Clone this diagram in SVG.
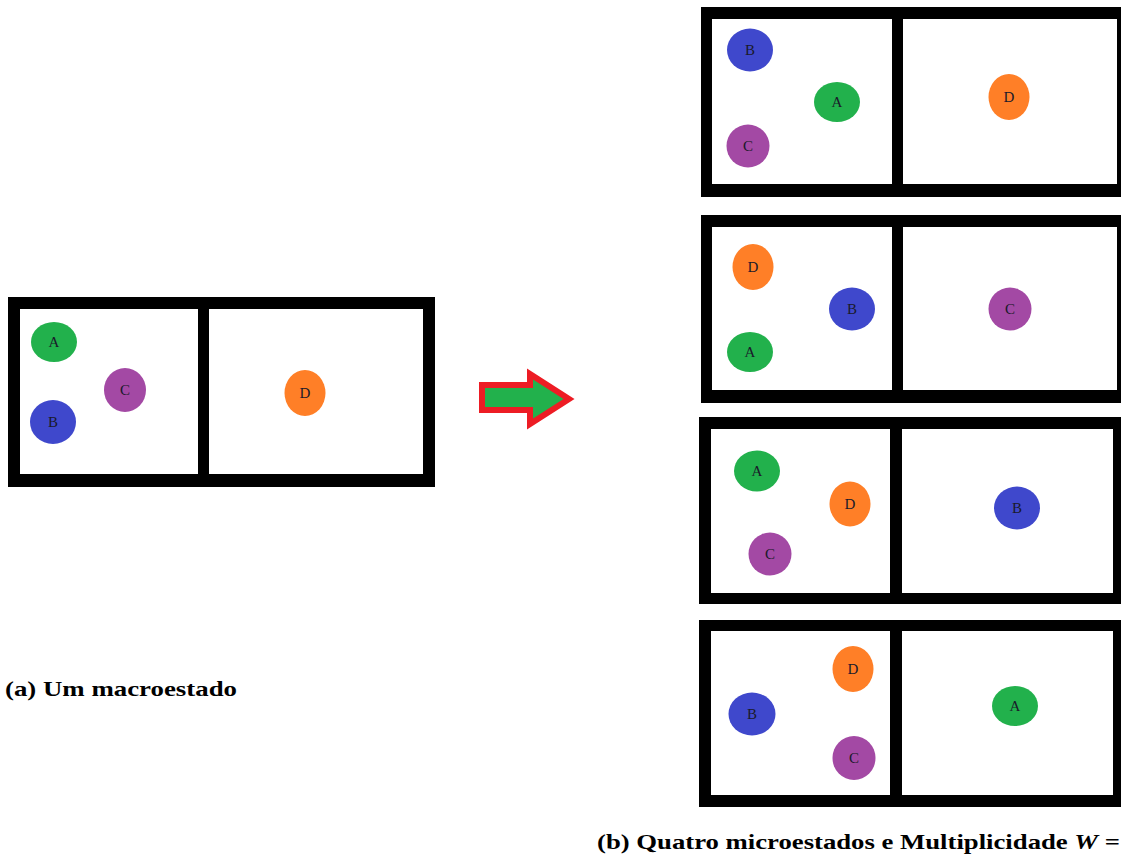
<svg xmlns="http://www.w3.org/2000/svg" width="1121" height="854" viewBox="0 0 1121 854">
<style>
.frame{fill:#000}
.cell{fill:#fff}
.lbl{font-family:"Liberation Serif","Times New Roman",serif;font-size:15px;fill:#1a1a2a;text-anchor:middle;dominant-baseline:central}
.ga{fill:#22b14c}
.bb{fill:#3f48cc}
.pc{fill:#a349a4}
.od{fill:#ff7f27}
.cap{font-family:"Liberation Serif","Times New Roman",serif;font-size:22px;font-weight:bold;fill:#000}
</style>
<rect width="1121" height="854" fill="#fff"/>

<g id="macro">
<rect class="frame" x="8" y="297" width="427" height="190"/>
<rect class="cell" x="20" y="309" width="178" height="165"/>
<rect class="cell" x="209" y="309" width="214" height="165"/>
<ellipse class="ga" cx="54" cy="342" rx="23" ry="20"/><text class="lbl" x="54" y="342">A</text>
<ellipse class="bb" cx="53" cy="422" rx="23" ry="22"/><text class="lbl" x="53" y="422">B</text>
<ellipse class="pc" cx="125" cy="390" rx="21" ry="22"/><text class="lbl" x="125" y="390">C</text>
<ellipse class="od" cx="305" cy="393" rx="20.5" ry="23"/><text class="lbl" x="305" y="393">D</text>
</g>

<g id="connectors">
<polygon points="482,385 530,385 530,374 569,399 530,424 530,410 482,410" fill="#22b14c" stroke="#ed1c24" stroke-width="6" stroke-linejoin="miter"/>
</g>

<g id="micro1">
<rect class="frame" x="701" y="7" width="429" height="190"/>
<rect class="cell" x="712" y="19" width="180" height="165"/>
<rect class="cell" x="903" y="19" width="214" height="165"/>
<ellipse class="bb" cx="750" cy="50" rx="23" ry="21.5"/><text class="lbl" x="750" y="50">B</text>
<ellipse class="ga" cx="837" cy="102" rx="23" ry="20"/><text class="lbl" x="837" y="102">A</text>
<ellipse class="pc" cx="748" cy="146" rx="21.5" ry="21.5"/><text class="lbl" x="748" y="146">C</text>
<ellipse class="od" cx="1009" cy="97" rx="20.5" ry="23"/><text class="lbl" x="1009" y="97">D</text>
</g>

<g id="micro2">
<rect class="frame" x="701" y="215" width="429" height="188"/>
<rect class="cell" x="712" y="227" width="180" height="163"/>
<rect class="cell" x="903" y="227" width="214" height="163"/>
<ellipse class="od" cx="753" cy="267" rx="20.5" ry="23"/><text class="lbl" x="753" y="267">D</text>
<ellipse class="bb" cx="852" cy="309" rx="23" ry="21.5"/><text class="lbl" x="852" y="309">B</text>
<ellipse class="ga" cx="750" cy="352" rx="23" ry="20"/><text class="lbl" x="750" y="352">A</text>
<ellipse class="pc" cx="1010" cy="309" rx="21.5" ry="21.5"/><text class="lbl" x="1010" y="309">C</text>
</g>

<g id="micro3">
<rect class="frame" x="699" y="417" width="431" height="187"/>
<rect class="cell" x="711" y="429" width="179" height="164"/>
<rect class="cell" x="902" y="429" width="211" height="164"/>
<ellipse class="ga" cx="757" cy="471" rx="23" ry="20.5"/><text class="lbl" x="757" y="471">A</text>
<ellipse class="od" cx="850" cy="504" rx="20.5" ry="22.5"/><text class="lbl" x="850" y="504">D</text>
<ellipse class="pc" cx="770" cy="554" rx="21.5" ry="21.5"/><text class="lbl" x="770" y="554">C</text>
<ellipse class="bb" cx="1017" cy="508" rx="23" ry="21.5"/><text class="lbl" x="1017" y="508">B</text>
</g>

<g id="micro4">
<rect class="frame" x="699" y="620" width="431" height="187"/>
<rect class="cell" x="711" y="631" width="179" height="164"/>
<rect class="cell" x="902" y="631" width="211" height="164"/>
<ellipse class="od" cx="853" cy="669" rx="20.5" ry="23"/><text class="lbl" x="853" y="669">D</text>
<ellipse class="bb" cx="752" cy="714" rx="23.5" ry="21.5"/><text class="lbl" x="752" y="714">B</text>
<ellipse class="pc" cx="854" cy="758" rx="21.5" ry="22"/><text class="lbl" x="854" y="758">C</text>
<ellipse class="ga" cx="1015" cy="706" rx="23" ry="20"/><text class="lbl" x="1015" y="706">A</text>
</g>

<g id="captions">
<text class="cap" x="5" y="696" textLength="232" lengthAdjust="spacingAndGlyphs">(a) Um macroestado</text>
<text class="cap" x="597" y="849" textLength="523" lengthAdjust="spacingAndGlyphs">(b) Quatro microestados e Multiplicidade <tspan font-style="italic">W</tspan> =</text>
</g>
</svg>
